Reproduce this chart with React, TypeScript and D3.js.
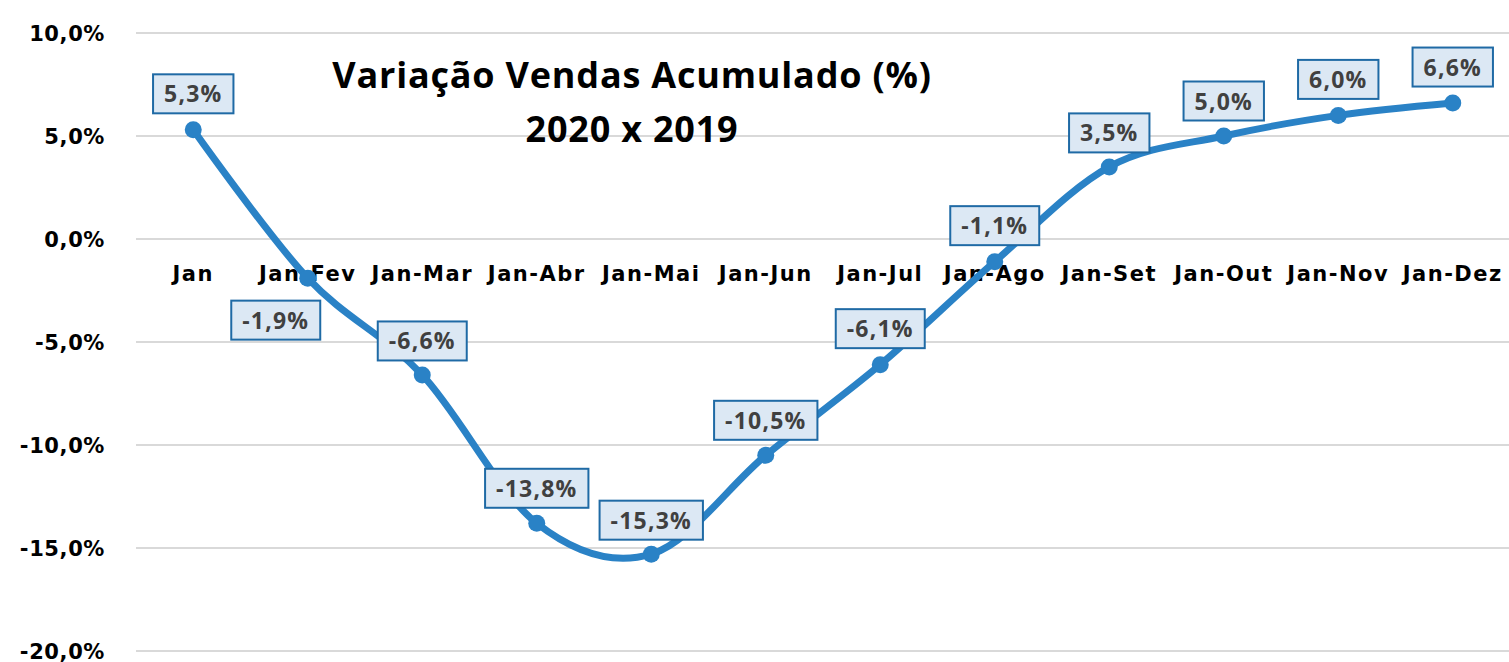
import React, { useEffect, useRef } from "react";
import * as d3 from "d3";

const categories = ["Jan", "Jan-Fev", "Jan-Mar", "Jan-Abr", "Jan-Mai", "Jan-Jun", "Jan-Jul", "Jan-Ago", "Jan-Set", "Jan-Out", "Jan-Nov", "Jan-Dez"];
const values = [5.3, -1.9, -6.6, -13.8, -15.3, -10.5, -6.1, -1.1, 3.5, 5.0, 6.0, 6.6];
const yTicks = [10, 5, 0, -5, -10, -15, -20];
const titleLines = ["Variação Vendas Acumulado (%)", "2020 x 2019"];
// label placement offsets (px) relative to each point
const labelDx = [0, -32, 0, 0, 0, 0, 0, 0, 0, 0, 0, 0];
const labelDy = [-36, 42, -34, -35, -34, -35, -36, -36, -34, -35, -36, -36];

const W = 1509, H = 662;
const fmt = (v: number) => v.toFixed(1).replace(".", ",") + "%";

export default function App() {
  const ref = useRef<SVGSVGElement>(null);
  useEffect(() => {
    const svg = d3.select(ref.current);
    svg.selectAll("*").remove();
    const x = d3.scaleBand().domain(categories).range([136, 1510]);
    const y = d3.scaleLinear().domain([-20, 10]).range([651, 33]);
    const cx = (c: string) => (x(c) as number) + x.bandwidth() / 2;

    // gridlines
    svg.append("g").selectAll("line").data(yTicks).join("line")
      .attr("x1", 136).attr("x2", W).attr("y1", d => y(d)).attr("y2", d => y(d))
      .attr("stroke", "#d9d9d9").attr("stroke-width", 2);

    // y tick labels
    svg.append("g").selectAll("text").data(yTicks).join("text")
      .attr("x", 105).attr("y", d => y(d) + 7.5).attr("text-anchor", "end")
      .attr("font-family", "DejaVu Sans").attr("font-weight", "bold").attr("font-size", 21)
      .attr("letter-spacing", 0.6).attr("fill", "#000")
      .text(d => fmt(d));

    // category labels
    svg.append("g").selectAll("text").data(categories).join("text")
      .attr("x", d => cx(d)).attr("y", 281).attr("text-anchor", "middle")
      .attr("font-family", "DejaVu Sans").attr("font-weight", "bold").attr("font-size", 21)
      .attr("letter-spacing", 1.5).attr("fill", "#000")
      .text(d => d);

    // title
    svg.append("g").selectAll("text").data(titleLines).join("text")
      .attr("x", 632).attr("y", (d, i) => 88 + i * 54).attr("text-anchor", "middle")
      .attr("font-family", "Open Sans").attr("font-weight", 700).attr("font-size", 36)
      .attr("letter-spacing", 0.8).attr("fill", "#000")
      .text(d => d);

    const pts = categories.map((c, i) => ({ c, v: values[i], i }));
    const line = d3.line<any>().x(d => cx(d.c)).y(d => y(d.v)).curve(d3.curveCardinal.tension(0));
    svg.append("path").attr("d", line(pts) as string).attr("fill", "none")
      .attr("stroke", "#2a82c6").attr("stroke-width", 7).attr("stroke-linecap", "round");

    svg.append("g").selectAll("circle").data(pts).join("circle")
      .attr("cx", d => cx(d.c)).attr("cy", d => y(d.v)).attr("r", 8.5).attr("fill", "#2a82c6");

    // data labels
    const lg = svg.append("g").selectAll("g").data(pts).join("g")
      .attr("transform", d => `translate(${cx(d.c) + labelDx[d.i]},${y(d.v) + labelDy[d.i]})`);
    const rects = lg.append("rect").attr("fill", "#dce8f4").attr("stroke", "#1f6aa5").attr("stroke-width", 2);
    const texts = lg.append("text").attr("text-anchor", "middle").attr("y", 8.5)
      .attr("font-family", "Open Sans").attr("font-weight", "bold").attr("font-size", 23)
      .attr("letter-spacing", 1.2).attr("fill", "#404040")
      .text(d => fmt(d.v));
    texts.each(function (_d, i) {
      const bb = (this as SVGTextElement).getBBox();
      const w = bb.width + 22;
      d3.select(rects.nodes()[i]).attr("x", -w / 2).attr("y", -19.5).attr("width", w).attr("height", 39);
    });
  }, []);
  return (
    <svg ref={ref} width={W} height={H} style={{ position: "absolute", left: 0, top: 0, background: "#fff" }} />
  );
}
